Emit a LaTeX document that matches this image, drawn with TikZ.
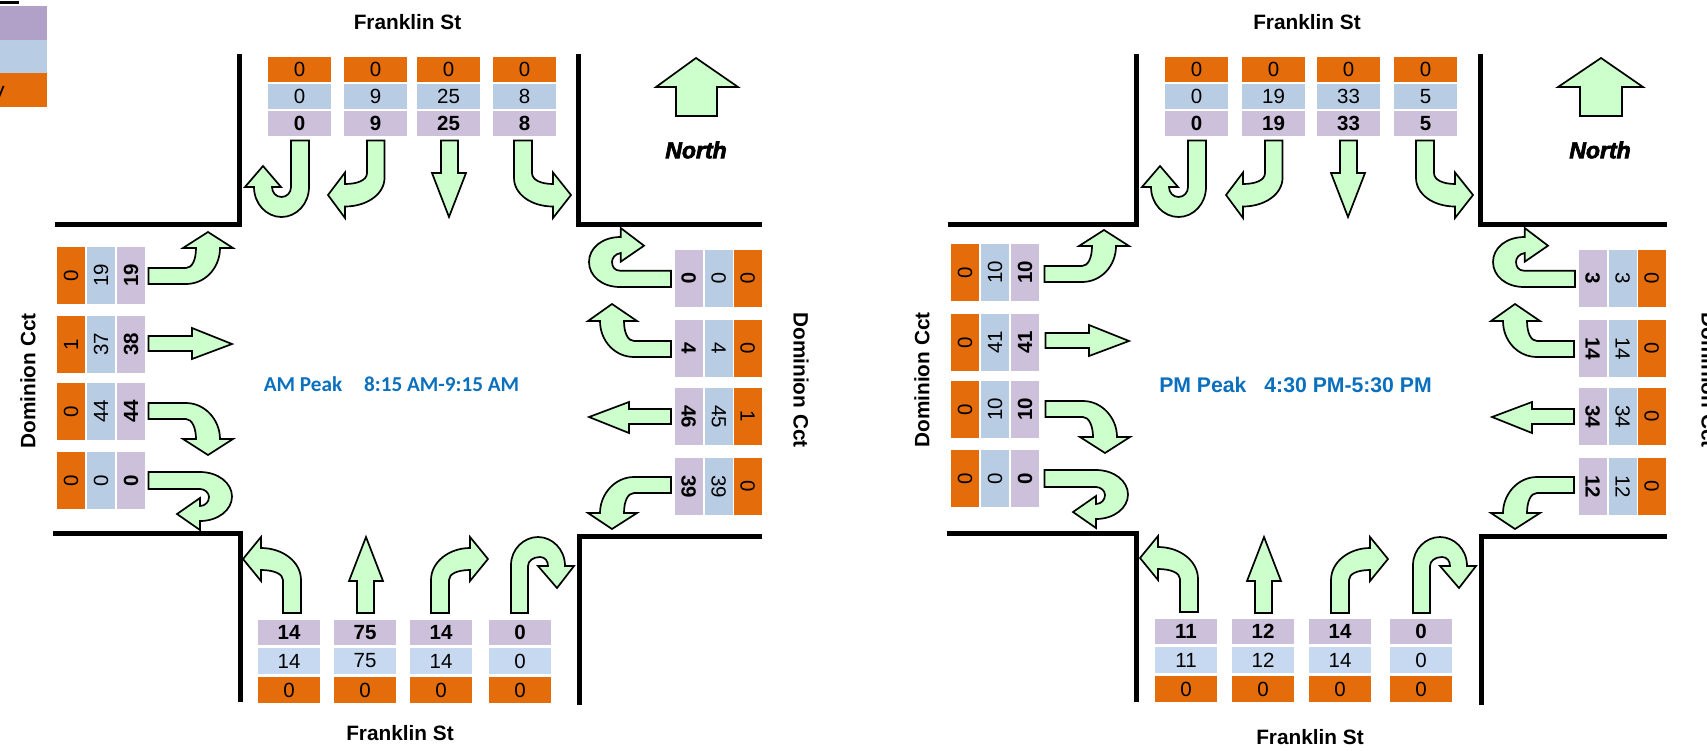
\documentclass[tikz,border=0pt]{standalone}
\usepackage{fontspec}
\setmainfont{Liberation Sans}
\newfontfamily\carl{Carlito}
\newfontfamily\northf[BoldItalicFeatures={FakeBold=3}]{Liberation Sans}
\definecolor{orangeC}{HTML}{E46C0A}
\definecolor{blueC}{HTML}{B8CCE4}
\definecolor{blueL}{HTML}{C6D9F1}
\definecolor{purpC}{HTML}{CCC0DA}
\definecolor{purpD}{HTML}{B1A0C7}
\definecolor{arrowC}{HTML}{CCFFCC}
\definecolor{peakC}{HTML}{0A70BE}
\newcommand\numfont{\fontsize{20.5}{24}\selectfont}
\newcommand\labfont{\fontsize{20.8}{24}\selectfont\bfseries}
\tikzset{
  cell/.style={inner sep=0pt,outer sep=0pt,font=\numfont,text=black},
  turnarrow/.style={draw=black,fill=arrowC,line width=1.7pt,line join=miter},
  roadline/.style={draw=black,line width=5pt,line join=miter,line cap=butt},
  streetname/.style={inner sep=0pt,font=\labfont,text=black},
  peaklabel/.style={inner sep=0pt,text=peakC},
}
\newcounter{cellno}
\newcommand\hcell[7]{\stepcounter{cellno}\node[cell,fill=#1,minimum width={((#4)-(#2))*1pt},minimum height={((#5)-(#3))*1pt}] (cell\thecellno) at ({(#2+#4)/2},{(#3+#5)/2}) {#6#7};}
\newcommand\vcell[8]{\stepcounter{cellno}\node[cell,fill=#2,rotate=#1,minimum width={((#6)-(#4))*1pt},minimum height={((#5)-(#3))*1pt}] (cell\thecellno) at ({(#3+#5)/2},{(#4+#6)/2}) {#7#8};}
% top column: x1, orange, blue, purple
\newcommand\tcol[4]{%
 \hcell{orangeC}{#1}{57}{#1+63}{82}{}{#2}
 \hcell{blueC}{#1}{84}{#1+63}{109}{}{#3}
 \hcell{purpC}{#1}{111}{#1+63}{136}{\bfseries}{#4}}
% bottom column: x1, dy, purple, blue, orange
\newcommand\bcol[5]{%
 \hcell{purpC}{#1}{620+#2}{#1+62}{645+#2}{\bfseries}{#3}
 \hcell{blueL}{#1}{648+#2}{#1+62}{674+#2}{}{#4}
 \hcell{orangeC}{#1}{677+#2}{#1+62}{703+#2}{}{#5}}
% left row: dx, y1, orange, blue, purple
\newcommand\lrow[5]{%
 \vcell{90}{orangeC}{57+#1}{#2}{85+#1}{#2+57}{}{#3}
 \vcell{90}{blueC}{87+#1}{#2}{115+#1}{#2+57}{}{#4}
 \vcell{90}{purpC}{117+#1}{#2}{145+#1}{#2+57}{\bfseries}{#5}}
% right row: dx, y1, purple, blue, orange
\newcommand\rrow[5]{%
 \vcell{-90}{purpC}{675+#1}{#2}{702.5+#1}{#2+57}{\bfseries}{#3}
 \vcell{-90}{blueC}{705+#1}{#2}{732.5+#1}{#2+57}{}{#4}
 \vcell{-90}{orangeC}{734+#1}{#2}{761.5+#1}{#2+57}{}{#5}}
% arrows
\newcommand\arTa[2]{\draw[turnarrow,shift={(#1,#2)}] (291,140.5)--(309,140.5)--(309,187) .. controls (309,203.6) and (296.7,217) .. (281.5,217) .. controls (266.3,217) and (254,203.6) .. (254,187) -- (245,187) -- (263,166) -- (281,187) -- (272,187) .. controls (272,192.5) and (276,197) .. (281.5,197) .. controls (287,197) and (291,192.5) .. (291,187) -- cycle;}
\newcommand\arTb[2]{\draw[turnarrow,shift={(#1,#2)}] (367,140.5)--(384.5,140.5)--(384.5,178) .. controls (384.5,194) and (367,206.5) .. (345,206.5) -- (345,218) -- (328,195) -- (345,172.5) -- (345,184) .. controls (358,184) and (367,180) .. (367,173) -- cycle;}
\newcommand\arTc[2]{\draw[turnarrow,shift={(#1,#2)}] (441,140.5)--(458,140.5)--(458,173)--(466,173)--(449,217)--(432,173)--(441,173)--cycle;}
\newcommand\arTd[2]{\draw[turnarrow,shift={(#1,#2)}] (514,140.5)--(532,140.5)--(532,173) .. controls (532,180) and (541,184) .. (553,184) -- (553,172.5) -- (571,195) -- (553,218) -- (553,206.5) .. controls (531,206.5) and (514,194) .. (514,178) -- cycle;}
\newcommand\arLa[2]{\draw[turnarrow,shift={(#1,#2)}] (148.5,268) -- (186,268) .. controls (192,268) and (196,260) .. (196,248) -- (183,248) -- (208,232) -- (233,248) -- (220,248) .. controls (220,268) and (205,284) .. (186,284) -- (148.5,284) -- cycle;}
\newcommand\arLb[2]{\draw[turnarrow,shift={(#1,#2)}] (148.5,336)--(192,336)--(192,328)--(232,344)--(192,359)--(192,351)--(148.5,351)--cycle;}
\newcommand\arLc[2]{\draw[turnarrow,shift={(#1,#2)}] (148.5,403)--(186,403) .. controls (205,403) and (220,420) .. (220,439) -- (233,439) -- (208,455) -- (183,439) -- (196,439) .. controls (196,428) and (192,419) .. (186,419) -- (148.5,419)--cycle;}
\newcommand\arLd[2]{\draw[turnarrow,shift={(#1,#2)}] (148.5,472)--(200,472) .. controls (218,472) and (232,483) .. (232,496.5) .. controls (232,510) and (218,521) .. (200,521) -- (200,530) -- (177,514) -- (200,498) -- (200,506) .. controls (205,506) and (209,502) .. (209,497) .. controls (209,493) and (205,489) .. (200,489) -- (148.5,489) -- cycle;}
\newcommand\arRa[2]{\draw[turnarrow,shift={(#1,#2)}] (671,270.7) -- (620,270.7) .. controls (615,270.7) and (612,267) .. (612,262) .. controls (612,258) and (615,254) .. (620.7,253) -- (620.7,261.7) -- (644,245.7) -- (620.7,228) -- (620.7,237) .. controls (602,237) and (589,248) .. (589,262) .. controls (589,276) and (602,287) .. (620,287) -- (671,287) -- cycle;}
\newcommand\arRb[2]{\draw[turnarrow,shift={(#1,#2)}] (671,341) -- (634,341) .. controls (628,341) and (624,333) .. (624,321) -- (637,321) -- (612,304) -- (588,321) -- (600,321) .. controls (600,341) and (615,357) .. (634,357) -- (671,357) -- cycle;}
\newcommand\arRc[2]{\draw[turnarrow,shift={(#1,#2)}] (671,409)--(629,409)--(629,402)--(589,417)--(629,433)--(629,424)--(671,424)--cycle;}
\newcommand\arRd[2]{\draw[turnarrow,shift={(#1,#2)}] (671,477) -- (634,477) .. controls (615,477) and (600,494) .. (600,513) -- (588,513) -- (612,529) -- (637,513) -- (624,513) .. controls (624,501) and (628,493) .. (634,493) -- (671,493) -- cycle;}
\newcommand\arBa[2]{\draw[turnarrow,shift={(#1,#2)}] (283,613)--(283,580) .. controls (283,574) and (274,570) .. (261,570) -- (261,581) -- (243,559) -- (261,537) -- (261,548) .. controls (283,548) and (301,562) .. (301,580) -- (301,613) -- cycle;}
\newcommand\arBb[2]{\draw[turnarrow,shift={(#1,#2)}] (357,613)--(357,581)--(349,581)--(366,537)--(383,581)--(374,581)--(374,613)--cycle;}
\newcommand\arBc[2]{\draw[turnarrow,shift={(#1,#2)}] (431,613)--(431,580) .. controls (431,562) and (449,548) .. (470,548) -- (470,537) -- (488,559) -- (470,581) -- (470,570) .. controls (457,570) and (449,574) .. (449,580) -- (449,613) -- cycle;}
\newcommand\arBd[2]{\draw[turnarrow,shift={(#1,#2)}] (511,613)--(511,565) .. controls (511,549) and (524,537) .. (538,537) .. controls (552,537) and (565,549) .. (565,566) -- (574,566) -- (557,588) -- (538,566) -- (548,566) .. controls (548,561) and (545,557) .. (540,557) .. controls (533,557) and (528,561) .. (528,566) -- (528,613) -- cycle;}
\begin{document}
\begin{tikzpicture}[x=1pt,y=-1pt]
\useasboundingbox (0,0) rectangle (1707,750);
% legend fragment
\fill[black] (0,1) rectangle (19,4);
\fill[purpD] (0,6) rectangle (47,40);
\fill[blueC] (0,40) rectangle (47,73);
\fill[orangeC] (0,73) rectangle (47,107);
\node[inner sep=0pt,anchor=base east,font=\numfont] (legendv) at (5,100) {V};
% roads AM
\draw[roadline] (239,54)--(239,224)--(55,224);
\draw[roadline] (578,54)--(578,224)--(762,224);
\draw[roadline] (53,533)--(240,533)--(240,702);
\draw[roadline] (762,536)--(579,536)--(579,705);
% roads PM
\draw[roadline] (1136,54)--(1136,224)--(948,224);
\draw[roadline] (1480,54)--(1480,224)--(1667,224);
\draw[roadline] (947,533)--(1136,533)--(1136,702);
\draw[roadline] (1667,536)--(1481,536)--(1481,705);
% AM cells
\tcol{268}{0}{0}{0}\tcol{344}{0}{9}{9}\tcol{417}{0}{25}{25}\tcol{493}{0}{8}{8}
\bcol{258}{0}{14}{14}{0}\bcol{334}{0}{75}{75}{0}\bcol{410}{0}{14}{14}{0}\bcol{489}{0}{0}{0}{0}
\lrow{0}{247}{0}{19}{19}\lrow{0}{316}{1}{37}{38}\lrow{0}{383}{0}{44}{44}\lrow{0}{452}{0}{0}{0}
\rrow{0}{250}{0}{0}{0}\rrow{0}{320}{4}{4}{0}\rrow{0}{388}{46}{45}{1}\rrow{0}{458}{39}{39}{0}
% PM cells
\tcol{1165}{0}{0}{0}\tcol{1242}{0}{19}{19}\tcol{1317}{0}{33}{33}\tcol{1394}{0}{5}{5}
\bcol{1155}{-1}{11}{11}{0}\bcol{1232}{-1}{12}{12}{0}\bcol{1309}{-1}{14}{14}{0}\bcol{1390}{-1}{0}{0}{0}
\lrow{894}{244}{0}{10}{10}\lrow{894}{314}{0}{41}{41}\lrow{894}{381}{0}{10}{10}\lrow{894}{450}{0}{0}{0}
\rrow{904}{250}{3}{3}{0}\rrow{904}{320}{14}{14}{0}\rrow{904}{388}{34}{34}{0}\rrow{904}{458}{12}{12}{0}
% AM arrows
\arTa{0}{0}\arTb{0}{0}\arTc{0}{0}\arTd{0}{0}
\arLa{0}{0}\arLb{0}{0}\arLc{0}{0}\arLd{0}{0}
\arRa{0}{0}\arRb{0}{0}\arRc{0}{0}\arRd{0}{0}
\arBa{0}{0}\arBb{0}{0}\arBc{0}{0}\arBd{0}{0}
% PM arrows
\arTa{897}{0}\arTb{898}{0}\arTc{899}{0}\arTd{902}{0}
\arLa{896}{-2}\arLb{897}{-3}\arLc{897}{-2}\arLd{896}{-2}
\arRa{904}{0}\arRb{903}{0}\arRc{903}{0}\arRd{903}{0}
\arBa{897}{-1}\arBb{898}{0}\arBc{900}{0}\arBd{902}{0}
% north arrows
\draw[turnarrow] (696,58)--(738,87)--(717,87)--(717,116)--(676,116)--(676,87)--(656,87)--cycle;
\draw[turnarrow] (1601,58)--(1643,87)--(1622,87)--(1622,116)--(1580,116)--(1580,87)--(1558,87)--cycle;
% labels
\node[streetname] (ftopa) at (407.5,22) {Franklin St};
\node[streetname] (ftopb) at (1307,22) {Franklin St};
\node[streetname] (fbota) at (400,733) {Franklin St};
\node[streetname] (fbotb) at (1310,737) {Franklin St};
\node[streetname,rotate=90] (dla) at (28,381) {Dominion Cct};
\node[streetname,rotate=90] (dlb) at (922,380) {Dominion Cct};
\node[streetname,rotate=-90] (dra) at (801,380) {Dominion Cct};
\node[streetname,rotate=-90] (drb) at (1709,380) {Dominion Cct};
\node[inner sep=0pt] (northa) at (696,150) {\northf\fontsize{23}{26}\selectfont\bfseries\itshape North};
\node[inner sep=0pt] (northb) at (1600,150) {\northf\fontsize{23}{26}\selectfont\bfseries\itshape North};
\node[peaklabel] (peaka) at (391.5,384) {\carl\fontsize{21.2}{24}\selectfont\bfseries AM Peak\hspace{22pt}8:15 AM-9:15 AM};
\node[peaklabel] (peakb) at (1295.5,385) {\fontsize{21.2}{24}\selectfont\bfseries PM Peak\hspace{18pt}4:30 PM-5:30 PM};
\end{tikzpicture}
\end{document}
